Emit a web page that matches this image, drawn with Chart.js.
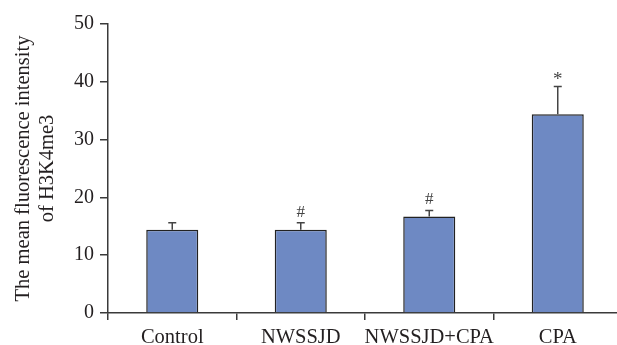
<!DOCTYPE html>
<html><head><meta charset="utf-8">
<script src="https://cdn.jsdelivr.net/npm/chart.js@4"></script>
<style>html,body{margin:0;padding:0;overflow:hidden;background:#fff}canvas{display:block}</style>
</head><body>
<canvas id="c" width="622" height="345"></canvas>
<script>
const categories = ['Control', 'NWSSJD', 'NWSSJD+CPA', 'CPA'];
const means = [14.4, 14.4, 16.7, 34.4];
const errors = [1.2, 1.2, 1.05, 4.8];
const marks = ['', '#', '#', '*'];
const yTicks = [0, 10, 20, 30, 40, 50];
const yTitle = ['The mean fluorescence intensity', 'of H3K4me3'];

const FONT = "'Liberation Serif', 'DejaVu Serif', serif";
const TXT = '#231f20';
const AX = '#3a3a3a';

const errPlugin = {
  id: 'errbars',
  afterDatasetsDraw(chart) {
    const ctx = chart.ctx, x = chart.scales.x, y = chart.scales.y;
    ctx.save();
    ctx.strokeStyle = '#444';
    ctx.lineWidth = 1.5;
    means.forEach((m, i) => {
      const cx = x.getPixelForValue(i);
      const y0 = y.getPixelForValue(m), y1 = y.getPixelForValue(m + errors[i]);
      ctx.beginPath();
      ctx.moveTo(cx, y0); ctx.lineTo(cx, y1);
      ctx.moveTo(cx - 4, y1); ctx.lineTo(cx + 4, y1);
      ctx.stroke();
      if (marks[i]) {
        ctx.fillStyle = '#444';
        ctx.textAlign = 'center';
        if (marks[i] === '*') {
          ctx.font = '19px ' + FONT;
          ctx.textBaseline = 'alphabetic';
          ctx.fillText(marks[i], cx, y1 - 1);
        } else {
          ctx.font = '17px ' + FONT;
          ctx.textBaseline = 'bottom';
          ctx.fillText(marks[i], cx, y1 - 2);
        }
      }
    });
    ctx.restore();
  }
};

new Chart(document.getElementById('c'), {
  type: 'bar',
  data: {
    labels: categories,
    datasets: [{
      data: means,
      backgroundColor: '#6e89c3',
      borderColor: '#222',
      borderWidth: 1.5,
      categoryPercentage: 1,
      barPercentage: 0.405
    }]
  },
  options: {
    responsive: false,
    animation: false,
    layout: { padding: { top: 24, left: 0, right: 0, bottom: 0 } },
    plugins: { legend: { display: false }, tooltip: { enabled: false } },
    scales: {
      x: {
        offset: true,
        grid: { offset: true, drawOnChartArea: false, tickLength: 7, color: AX, lineWidth: 1.5 },
        border: { color: AX, width: 1.5 },
        ticks: { color: TXT, font: { family: FONT, size: 20.5 }, padding: 5, maxRotation: 0, autoSkip: false },
        afterFit(s) { s.height = 32; }
      },
      y: {
        min: 0, max: 50,
        afterBuildTicks(s) { s.ticks = yTicks.map(v => ({ value: v })); },
        grid: { drawOnChartArea: false, tickLength: 8, color: AX, lineWidth: 1.5 },
        border: { color: AX, width: 1.5 },
        ticks: { color: TXT, font: { family: FONT, size: 20 }, padding: 6 },
        title: { display: true, text: yTitle, color: TXT, font: { family: FONT, size: 20.5 }, padding: { top: 11, bottom: 0 } },
        afterFit(s) { s.width = 108; }
      }
    }
  },
  plugins: [errPlugin]
});
</script>
</body></html>
